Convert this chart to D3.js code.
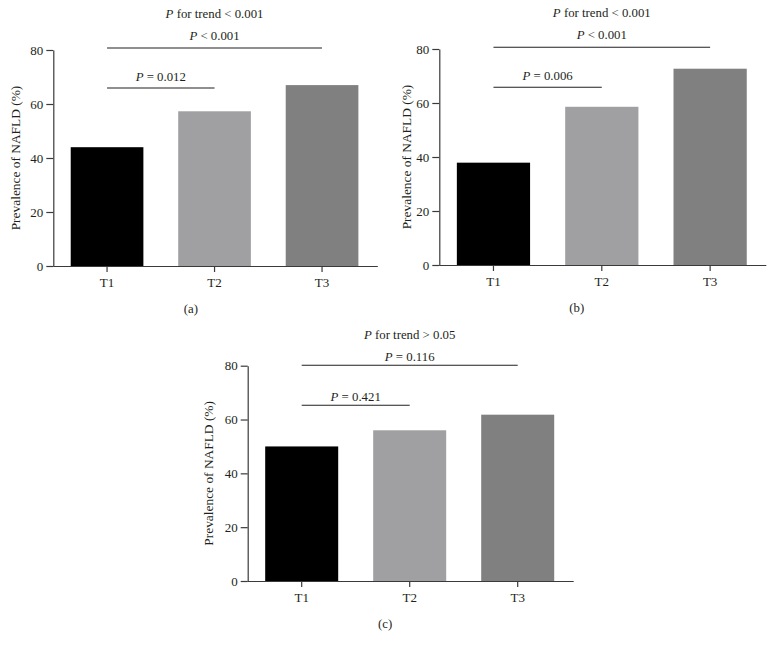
<!DOCTYPE html>
<html>
<head>
<meta charset="utf-8">
<script src="https://cdn.jsdelivr.net/npm/d3@7"></script>
<style>
  html, body { margin: 0; padding: 0; background: #fff; }
  svg { display: block; }
  text { font-family: "Liberation Serif", "Times New Roman", serif; fill: #231f20; }
</style>
</head>
<body>
<svg id="chart" width="774" height="652"></svg>
<script>
// ---- data ----
const categories = ["T1", "T2", "T3"];
const valuesA = [44.0, 57.3, 67.0];
const valuesB = [37.9, 58.6, 72.7];
const valuesC = [50.0, 56.0, 61.8];
const yTicks = [0, 20, 40, 60, 80];
const trendLabels = ["for trend < 0.001", "for trend < 0.001", "for trend > 0.05"];
const longBracketLabels = ["< 0.001", "< 0.001", "= 0.116"];
const shortBracketLabels = ["= 0.012", "= 0.006", "= 0.421"];
const panelCaptions = ["(a)", "(b)", "(c)"];
const yAxisTitle = "Prevalence of NAFLD (%)";
const barColors = ["#000000", "#a0a0a3", "#808080"];

// ---- layout (pixel geometry) ----
const panels = [
  { values: valuesA, x0: 53.3, x1: 375.8, yTop: 50, yBot: 266, labelX: 15.5,
    titleY: 18, longY: 48, longTextY: 40, shortY: 88, shortTextY: 81 },
  { values: valuesB, x0: 439.3, x1: 764.3, yTop: 49, yBot: 265, labelX: 406.5,
    titleY: 16.5, longY: 47.3, longTextY: 39, shortY: 87.3, shortTextY: 79.5 },
  { values: valuesC, x0: 247.7, x1: 571.7, yTop: 365.7, yBot: 581, labelX: 208.5,
    titleY: 338.5, longY: 365.3, longTextY: 361.3, shortY: 405.3, shortTextY: 401.3 }
];

const svg = d3.select("#chart");
const fontSize = 12.8;
const tickFont = 13;
const labelFont = 13.4;
const axisColor = "#3a3a3a";

panels.forEach((p, i) => {
  const g = svg.append("g");
  const x = d3.scaleBand().domain(categories).range([p.x0, p.x1])
    .paddingInner(0.324).paddingOuter(0.162);
  const y = d3.scaleLinear().domain([0, 80]).range([p.yBot, p.yTop]);

  // bars
  g.selectAll("rect.bar").data(p.values).enter().append("rect")
    .attr("class", "bar")
    .attr("x", (d, j) => x(categories[j]))
    .attr("y", d => y(d))
    .attr("width", x.bandwidth())
    .attr("height", d => y(0) - y(d))
    .attr("fill", (d, j) => barColors[j]);

  // y axis
  const yAxis = g.append("g").attr("transform", `translate(${p.x0},0)`)
    .call(d3.axisLeft(y).tickValues(yTicks).tickSize(7).tickSizeOuter(0).tickPadding(3));
  // x axis
  const xAxis = g.append("g").attr("transform", `translate(0,${p.yBot})`)
    .call(d3.axisBottom(x).tickSize(6).tickSizeOuter(0).tickPadding(6));
  [yAxis, xAxis].forEach(ax => {
    ax.select(".domain").attr("stroke", axisColor).attr("stroke-width", 1.2);
    ax.selectAll(".tick line").attr("stroke", axisColor).attr("stroke-width", 1.2);
    ax.selectAll(".tick text").style("font-size", tickFont + "px").attr("fill", "#231f20");
  });
  // extend x axis domain slightly to the right
  xAxis.select(".domain").attr("d", `M${p.x0},0.5H${p.x1 + 2}`);

  // y axis title
  g.append("text")
    .attr("transform", `translate(${p.labelX},${(p.yTop + p.yBot) / 2}) rotate(-90)`)
    .attr("text-anchor", "middle")
    .attr("dominant-baseline", "central")
    .style("font-size", labelFont + "px")
    .text(yAxisTitle);

  const c1 = x(categories[0]) + x.bandwidth() / 2;
  const c2 = x(categories[1]) + x.bandwidth() / 2;
  const c3 = x(categories[2]) + x.bandwidth() / 2;

  // brackets
  g.append("line").attr("x1", c1).attr("x2", c3).attr("y1", p.longY).attr("y2", p.longY)
    .attr("stroke", "#231f20").attr("stroke-width", 1.1);
  g.append("line").attr("x1", c1).attr("x2", c2).attr("y1", p.shortY).attr("y2", p.shortY)
    .attr("stroke", "#231f20").attr("stroke-width", 1.1);

  function pText(xc, yb, rest) {
    const t = g.append("text").attr("x", xc).attr("y", yb)
      .attr("text-anchor", "middle").style("font-size", fontSize + "px");
    t.append("tspan").attr("font-style", "italic").text("P");
    t.append("tspan").text(" " + rest);
  }
  pText(c2, p.titleY, trendLabels[i]);
  pText((c1 + c3) / 2, p.longTextY, longBracketLabels[i]);
  pText((c1 + c2) / 2, p.shortTextY, shortBracketLabels[i]);

  // caption
  g.append("text").attr("x", p.x0 + 137.5).attr("y", p.yBot + 47)
    .attr("text-anchor", "middle").style("font-size", fontSize + "px")
    .text(panelCaptions[i]);
});
</script>
</body>
</html>
